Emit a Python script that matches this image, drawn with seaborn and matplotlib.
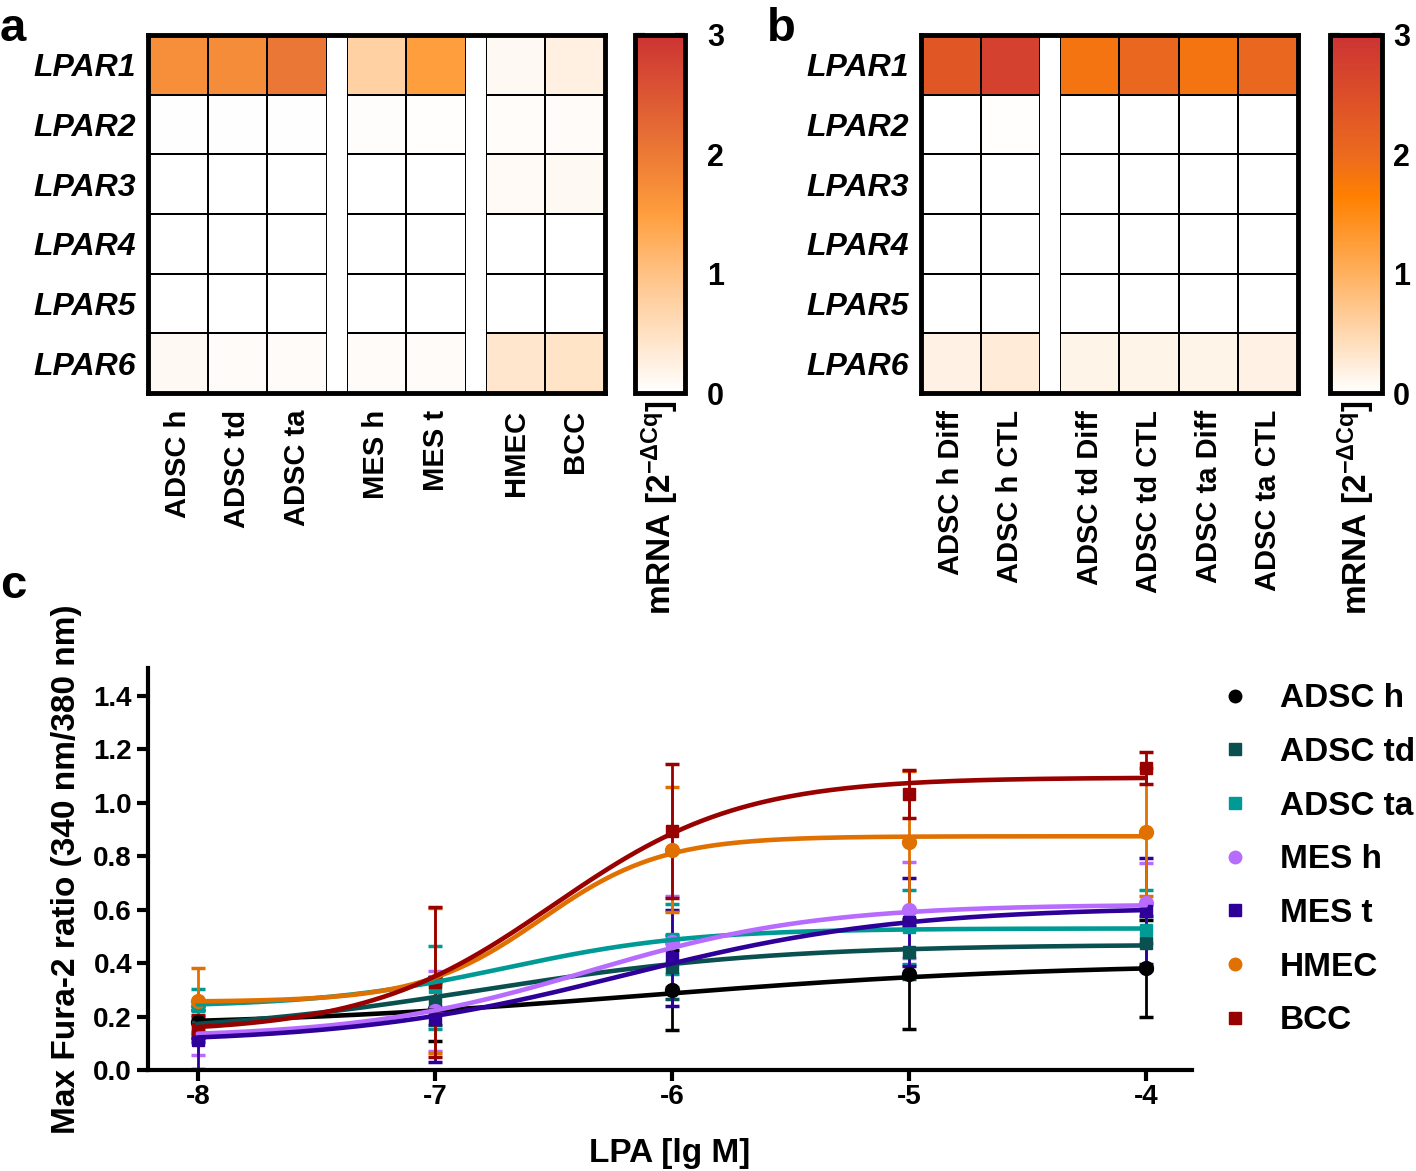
import numpy as np
import pandas as pd
import matplotlib
matplotlib.use('Agg')
import matplotlib.pyplot as plt
import seaborn as sns
from matplotlib.colors import LinearSegmentedColormap
from matplotlib.lines import Line2D

sns.set_style('ticks')
plt.rcParams['font.family'] = ['Liberation Sans', 'DejaVu Sans']
plt.rcParams['font.weight'] = 'bold'
plt.rcParams['axes.labelweight'] = 'bold'
plt.rcParams['axes.unicode_minus'] = False
plt.rcParams['axes.edgecolor'] = 'black'
plt.rcParams['text.color'] = 'black'
plt.rcParams['axes.labelcolor'] = 'black'
plt.rcParams['xtick.color'] = 'black'
plt.rcParams['ytick.color'] = 'black'
plt.rcParams['mathtext.fontset'] = 'custom'
plt.rcParams['mathtext.rm'] = 'Liberation Sans:bold'
plt.rcParams['mathtext.bf'] = 'Liberation Sans:bold'
plt.rcParams['mathtext.it'] = 'Liberation Sans:bold:italic'

# ---- data: heatmaps ----
genes = ['LPAR1', 'LPAR2', 'LPAR3', 'LPAR4', 'LPAR5', 'LPAR6']

cells_a = ['ADSC h', 'ADSC td', 'ADSC ta', 'MES h', 'MES t', 'HMEC', 'BCC']
groups_a = [3, 2, 2]
lpar1_a = [1.70, 1.75, 2.05, 0.75, 1.50, 0.10, 0.25]
lpar2_a = [0.02, 0.02, 0.02, 0.04, 0.03, 0.05, 0.06]
lpar3_a = [0.00, 0.00, 0.01, 0.00, 0.00, 0.09, 0.10]
lpar4_a = [0.00, 0.00, 0.00, 0.00, 0.00, 0.01, 0.01]
lpar5_a = [0.00, 0.00, 0.00, 0.00, 0.00, 0.00, 0.01]
lpar6_a = [0.10, 0.07, 0.07, 0.07, 0.06, 0.42, 0.45]

cells_b = ['ADSC h Diff', 'ADSC h CTL', 'ADSC td Diff', 'ADSC td CTL',
           'ADSC ta Diff', 'ADSC ta CTL']
groups_b = [2, 4]
lpar1_b = [2.35, 2.75, 1.85, 2.05, 1.85, 2.05]
lpar2_b = [0.01, 0.02, 0.01, 0.01, 0.01, 0.01]
lpar3_b = [0.00, 0.01, 0.00, 0.00, 0.00, 0.00]
lpar4_b = [0.00, 0.01, 0.00, 0.00, 0.00, 0.00]
lpar5_b = [0.00, 0.01, 0.00, 0.00, 0.00, 0.00]
lpar6_b = [0.17, 0.25, 0.15, 0.15, 0.15, 0.17]

df_a = pd.DataFrame([lpar1_a, lpar2_a, lpar3_a, lpar4_a, lpar5_a, lpar6_a],
                    index=genes, columns=cells_a)
df_b = pd.DataFrame([lpar1_b, lpar2_b, lpar3_b, lpar4_b, lpar5_b, lpar6_b],
                    index=genes, columns=cells_b)

cmap_a = LinearSegmentedColormap.from_list('a', [(0, '#FFFFFF'), (1/3, '#FFC285'), (0.5, '#FF9E3D'),
                                                 (2/3, '#EC7A35'), (1, '#CC3333')])
cmap_b = LinearSegmentedColormap.from_list('b', [(0, '#FFFFFF'), (1/3, '#FFB05E'), (0.55, '#FF8000'),
                                                 (2/3, '#EB6A1E'), (1, '#CC3333')])

# ---- data: calcium response ----
conc = [-8, -7, -6, -5, -4]
series = ['ADSC h', 'ADSC td', 'ADSC ta', 'MES h', 'MES t', 'HMEC', 'BCC']
colors = ['#000000', '#0A5050', '#009A96', '#B86BFF', '#2E0099', '#E07000', '#990000']
markers = ['o', 's', 's', 'o', 's', 'o', 's']

adsc_h = [0.18, 0.23, 0.30, 0.36, 0.38]
adsc_td = [0.16, 0.25, 0.385, 0.44, 0.475]
adsc_ta = [0.24, 0.31, 0.49, 0.535, 0.525]
mes_h = [0.14, 0.22, 0.48, 0.60, 0.625]
mes_t = [0.113, 0.19, 0.42, 0.555, 0.595]
hmec = [0.26, 0.335, 0.825, 0.855, 0.89]
bcc = [0.155, 0.33, 0.895, 1.035, 1.13]

adsc_h_sd = [0.06, 0.12, 0.15, 0.205, 0.18]
adsc_td_sd = [0.04, 0.08, 0.12, 0.10, 0.10]
adsc_ta_sd = [0.065, 0.155, 0.13, 0.14, 0.15]
mes_h_sd = [0.085, 0.15, 0.17, 0.18, 0.15]
mes_t_sd = [0.11, 0.16, 0.18, 0.165, 0.20]
hmec_sd = [0.12, 0.27, 0.235, 0.265, 0.24]
bcc_sd = [0.05, 0.28, 0.25, 0.09, 0.06]

means = [adsc_h, adsc_td, adsc_ta, mes_h, mes_t, hmec, bcc]
sds = [adsc_h_sd, adsc_td_sd, adsc_ta_sd, mes_h_sd, mes_t_sd, hmec_sd, bcc_sd]

# 4PL fit parameters: bottom, top, logEC50, hill
fit_bottom = [0.16, 0.13, 0.235, 0.12, 0.10, 0.255, 0.14]
fit_top = [0.40, 0.47, 0.53, 0.62, 0.61, 0.875, 1.095]
fit_logec50 = [-6.1, -6.8, -6.7, -6.35, -6.2, -6.55, -6.5]
fit_hill = [0.5, 0.7, 1.1, 0.9, 0.75, 1.7, 1.1]

W, H = 1416, 1171
fig = plt.figure(figsize=(W / 100, H / 100), dpi=100)


def box(x0, y0, x1, y1):
    return [x0 / W, 1 - y1 / H, (x1 - x0) / W, (y1 - y0) / H]


def draw_heatmap(data, groups, hbox, cbox, cmap, label_x, cbar_pad):
    left, bottom, width, height = hbox
    gap = 1 / 3
    cw = width / (data.shape[1] + gap * (len(groups) - 1))
    cax = fig.add_axes(cbox)
    start = 0
    x = left
    for gi, g in enumerate(groups):
        gax = fig.add_axes([x, bottom, cw * g, height])
        sub = data.iloc[:, start:start + g]
        sns.heatmap(sub, ax=gax, cmap=cmap, vmin=0, vmax=3, linewidths=1.2,
                    linecolor='black', cbar=(gi == 0), cbar_ax=cax if gi == 0 else None,
                    yticklabels=(gi == 0), xticklabels=True)
        gax.tick_params(axis='x', length=0, pad=12)
        gax.tick_params(axis='y', length=0, pad=9)
        gax.set_xticklabels(sub.columns, rotation=90, fontsize=21, fontweight='bold')
        if gi == 0:
            gax.set_yticklabels(genes, rotation=0, fontsize=23, fontweight='bold',
                                fontstyle='italic', va='center_baseline')
            cbar = gax.collections[0].colorbar
        gax.set_xlabel('')
        gax.set_ylabel('')
        start += g
        x += cw * (g + gap)
    frame = fig.add_axes(hbox)
    frame.patch.set_alpha(0)
    frame.set_xticks([])
    frame.set_yticks([])
    for s in frame.spines.values():
        s.set_linewidth(3.5)
        s.set_visible(True)
        s.set_edgecolor('black')
    cbar.set_ticks([0, 1, 2, 3])
    cbar.outline.set_linewidth(3.5)
    cbar.outline.set_edgecolor('black')
    cax.tick_params(direction='in', left=True, right=True, length=7, width=3,
                    labelsize=22, pad=cbar_pad, colors='black')
    for t in cax.get_yticklabels():
        t.set_fontweight('bold')
    fig.text(label_x / W, 1 - 400 / H, r'mRNA [2$^{\mathrm{-\Delta Cq}}$]', rotation=90,
             ha='center', va='top', fontsize=24, fontweight='bold')


draw_heatmap(df_a, groups_a, box(148, 35, 605, 393), box(635, 35, 685, 393), cmap_a, 660, 16)
draw_heatmap(df_b, groups_b, box(921, 35, 1298, 393), box(1330, 35, 1382, 393), cmap_b, 1356, 8)

# ---- panel c ----
ax = fig.add_axes(box(148, 668, 1192, 1070))
xs = np.linspace(-8, -4, 200)
curve_rows = []
for name, b, t, ec, h in zip(series, fit_bottom, fit_top, fit_logec50, fit_hill):
    ys = b + (t - b) / (1 + 10 ** ((ec - xs) * h))
    curve_rows.append(pd.DataFrame({'x': xs, 'y': ys, 'cell': name}))
curves = pd.concat(curve_rows)

for name, m, sd, c, mk in zip(series, means, sds, colors, markers):
    ax.errorbar(conc, m, yerr=sd, fmt=mk, color=c, ms=10 if mk == 'o' else 9,
                elinewidth=2, capsize=5, capthick=2.5, zorder=2)

sns.lineplot(data=curves, x='x', y='y', hue='cell', palette=dict(zip(series, colors)),
             linewidth=3.3, legend=False, ax=ax, zorder=3)

ax.set_xlim(-8.21, -3.805)
ax.set_ylim(0, 1.505)
ax.set_xticks(conc)
ax.set_xticklabels([str(v) for v in conc])
ax.set_yticks(np.arange(0, 1.41, 0.2))
ax.set_yticklabels(['%.1f' % v for v in np.arange(0, 1.41, 0.2)])
ax.tick_params(direction='out', length=8, width=3, labelsize=20, colors='black')
ax.tick_params(axis='x', pad=2)
for s in ['top', 'right']:
    ax.spines[s].set_visible(False)
for s in ['left', 'bottom']:
    ax.spines[s].set_linewidth(3)
    ax.spines[s].set_edgecolor('black')
ax.set_xlabel('LPA [lg M]', fontsize=24, labelpad=20)
ax.set_ylabel('Max Fura-2 ratio (340 nm/380 nm)', fontsize=24, labelpad=8)

handles = [Line2D([], [], marker=mk, color=c, linestyle='none', markersize=9 if mk == 'o' else 8)
           for c, mk in zip(colors, markers)]
fig.legend(handles, series, loc='upper left', bbox_to_anchor=(1205 / W, 1 - 670 / H),
           frameon=False, prop={'size': 24, 'weight': 'bold'}, handlelength=1.0,
           handletextpad=0.85, labelspacing=0.68, borderaxespad=0)

fig.text(0 / W, 1 - 41 / H, 'a', fontsize=34, fontweight='bold', va='baseline', ha='left')
fig.text(767 / W, 1 - 41 / H, 'b', fontsize=34, fontweight='bold', va='baseline', ha='left')
fig.text(0 / W, 1 - 598 / H, 'c', fontsize=34, fontweight='bold', va='baseline', ha='left')

fig.savefig('out.png', dpi=100)
